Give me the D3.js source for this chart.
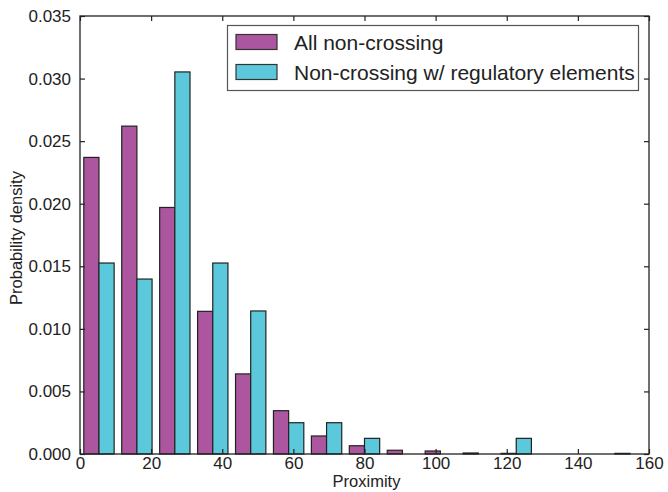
<!DOCTYPE html>
<html>
<head>
<meta charset="utf-8">
<script src="https://cdn.jsdelivr.net/npm/d3@7"></script>
<style>
  body { margin: 0; background: #fff; }
  text { font-family: "Liberation Sans", Arial, sans-serif; fill: #222; }
</style>
</head>
<body>
<svg id="chart"></svg>
<script>
// histogram bins (15 bins from 0 to 160)
let binEdges = [0, 10.667, 21.333, 32, 42.667, 53.333, 64, 74.667, 85.333, 96, 106.667, 117.333, 128, 138.667, 149.333, 160];
let allNonCrossing = [0.0237, 0.0262, 0.0197, 0.0114, 0.0064, 0.00346, 0.00144, 0.00066, 0.0003, 0.00024, 0.00008, 0.00005, 0, 0, 0.00005];
let withRegulatory = [0.01526, 0.01398, 0.03053, 0.01526, 0.01143, 0.0025, 0.0025, 0.00125, 0, 0, 0, 0.00125, 0, 0, 0];
let seriesNames = ['All non-crossing', 'Non-crossing w/ regulatory elements'];
let seriesColors = ['#ab569f', '#5bc8db'];
let xTicks = [0, 20, 40, 60, 80, 100, 120, 140, 160];
let yTicks = [0, 0.005, 0.010, 0.015, 0.020, 0.025, 0.030, 0.035];

function getConfig() {
  let width = 668;
  let height = 492;
  let margin = { top: 16, bottom: 38, left: 80, right: 19 };
  let bodyWidth = width - margin.left - margin.right;
  let bodyHeight = height - margin.top - margin.bottom;
  let container = d3.select('#chart').attr('width', width).attr('height', height);
  return { width, height, margin, bodyWidth, bodyHeight, container };
}

function getScales(config) {
  let xScale = d3.scaleLinear().domain([0, 160]).range([0, config.bodyWidth]);
  let yScale = d3.scaleLinear().domain([0, 0.035]).range([config.bodyHeight, 0]);
  return { xScale, yScale };
}

function drawBars(scales, config) {
  let { margin, container } = config;
  let { xScale, yScale } = scales;
  let body = container.append('g')
    .attr('transform', `translate(${margin.left},${margin.top})`);

  let series = [allNonCrossing, withRegulatory];
  series.forEach((values, s) => {
    let bars = values.map((v, i) => {
      let w = binEdges[i + 1] - binEdges[i];
      let x0 = binEdges[i] + w * 0.1 + s * w * 0.4;
      return { x0, x1: x0 + w * 0.4, v };
    }).filter(d => d.v > 0);
    body.selectAll('.bar' + s).data(bars)
      .enter().append('rect')
      .attr('class', 'bar' + s)
      .attr('x', d => xScale(d.x0))
      .attr('width', d => xScale(d.x1) - xScale(d.x0))
      .attr('y', d => yScale(d.v))
      .attr('height', d => Math.max(0, yScale(0) - yScale(d.v)))
      .attr('fill', seriesColors[s])
      .attr('stroke', '#222')
      .attr('stroke-width', 1.2);
  });
  return body;
}

function drawAxes(scales, config, body) {
  let { xScale, yScale } = scales;
  let { bodyWidth, bodyHeight } = config;
  let tick = 5;

  let axisX = d3.axisBottom(xScale).tickValues(xTicks).tickSize(-tick).tickPadding(3).tickFormat(d3.format('d'));
  let gx = body.append('g').attr('transform', `translate(0,${bodyHeight})`).call(axisX);
  let axisXTop = d3.axisTop(xScale).tickValues(xTicks).tickSize(-tick).tickFormat('');
  let gxt = body.append('g').call(axisXTop);

  let axisY = d3.axisLeft(yScale).tickValues(yTicks).tickSize(-tick).tickPadding(tick + 4).tickFormat(d3.format('.3f'));
  let gy = body.append('g').call(axisY);
  let axisYRight = d3.axisRight(yScale).tickValues(yTicks).tickSize(-tick).tickFormat('');
  let gyr = body.append('g').attr('transform', `translate(${bodyWidth},0)`).call(axisYRight);

  [gx, gxt, gy, gyr].forEach(g => {
    g.select('.domain').remove();
    g.selectAll('line').attr('stroke', '#222').attr('stroke-width', 1.2);
    g.selectAll('text').style('font-size', '17px').attr('fill', '#222');
  });

  body.append('rect')
    .attr('x', 0).attr('y', 0)
    .attr('width', bodyWidth).attr('height', bodyHeight)
    .attr('fill', 'none').attr('stroke', '#222').attr('stroke-width', 1.3);

  body.append('text')
    .attr('x', bodyWidth / 2 + 2).attr('y', bodyHeight + 33)
    .attr('text-anchor', 'middle').style('font-size', '16.5px')
    .text('Proximity');
  body.append('text')
    .attr('transform', `translate(-58,${bodyHeight / 2 + 3}) rotate(-90)`)
    .attr('text-anchor', 'middle').style('font-size', '16.5px')
    .text('Probability density');
}

function drawLegend(config) {
  let { container } = config;
  let legend = container.append('g').attr('transform', 'translate(227.5,25.5)');
  legend.append('rect')
    .attr('width', 411).attr('height', 65)
    .attr('fill', '#fff').attr('stroke', '#555').attr('stroke-width', 1.2);
  seriesNames.forEach((name, i) => {
    legend.append('rect')
      .attr('x', 8.5).attr('y', 9 + i * 30)
      .attr('width', 41).attr('height', 15)
      .attr('fill', seriesColors[i]).attr('stroke', '#333').attr('stroke-width', 1.2);
    legend.append('text')
      .attr('x', 66.5).attr('y', 24 + i * 30.5)
      .style('font-size', '21px')
      .text(name);
  });
}

function drawChart() {
  let config = getConfig();
  let scales = getScales(config);
  let body = drawBars(scales, config);
  drawAxes(scales, config, body);
  drawLegend(config);
}

drawChart();
</script>
</body>
</html>
